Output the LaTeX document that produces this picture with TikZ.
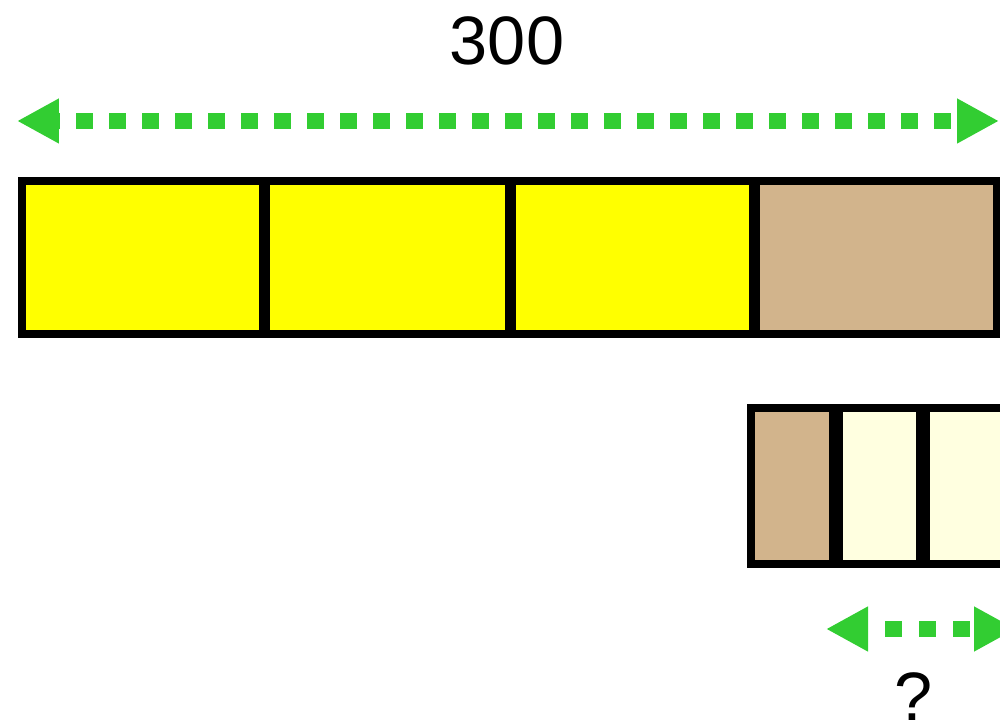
\documentclass[tikz,border=0pt]{standalone}
\usepackage{fontspec}
\setmainfont{Liberation Sans}
\usepackage{tikz}
\usetikzlibrary{arrows.meta, positioning}
\definecolor{barYellow}{HTML}{FFFF00}
\definecolor{barTan}{HTML}{D2B48C}
\definecolor{barPale}{HTML}{FFFFE0}
\definecolor{arrowGreen}{HTML}{32CD32}

\tikzset{
    cell/.style={draw=black, line width=0.16cm, line join=miter},
    measure/.style={arrowGreen, line width=0.32cm, dash pattern=on 0.34cm off 0.32cm,
        {Triangle[length=0.84cm, width=0.84cm]}-{Triangle[length=0.84cm, width=0.84cm]}},
    label/.style={font=\fontsize{39}{44}\selectfont, inner sep=0pt}
}

\begin{document}
\begin{tikzpicture}[x=0.02cm, y=-0.02cm]

        % Khung hình
        \useasboundingbox (0,0) rectangle (1000,722);
        \clip (0,0) rectangle (1000,722);

        % Thanh trên
        \draw[cell, fill=barYellow] (22,181) rectangle (263,334);
        \draw[cell, fill=barYellow] (266,181) rectangle (508.5,334);
        \draw[cell, fill=barYellow] (511.5,181) rectangle (752.5,334);
        \draw[cell, fill=barTan] (755.5,181) rectangle (996.5,334);

        % Thanh dưới
        \draw[cell, fill=barTan] (751,408) rectangle (833,563.5);
        \draw[cell, fill=barPale] (839,408) rectangle (919.5,563.5);
        \draw[cell, fill=barPale] (925.5,408) rectangle (1010,563.5);

        % Mũi tên đo
        \coordinate (topL) at (17,121);
        \coordinate (topR) at (999,121);
        \draw[measure, dash phase=0.26cm] (topL) -- (topR);
        \node[label] (total) at (507,40.5) {300};

        \coordinate (botL) at (826,629);
        \coordinate (botR) at (1016,629);
        \draw[measure, dash pattern=on 0.34cm off 0.34cm, dash phase=0.28cm] (botL) -- (botR);
        \node[label] (part) at (914,697) {?};

\end{tikzpicture}
\end{document}
